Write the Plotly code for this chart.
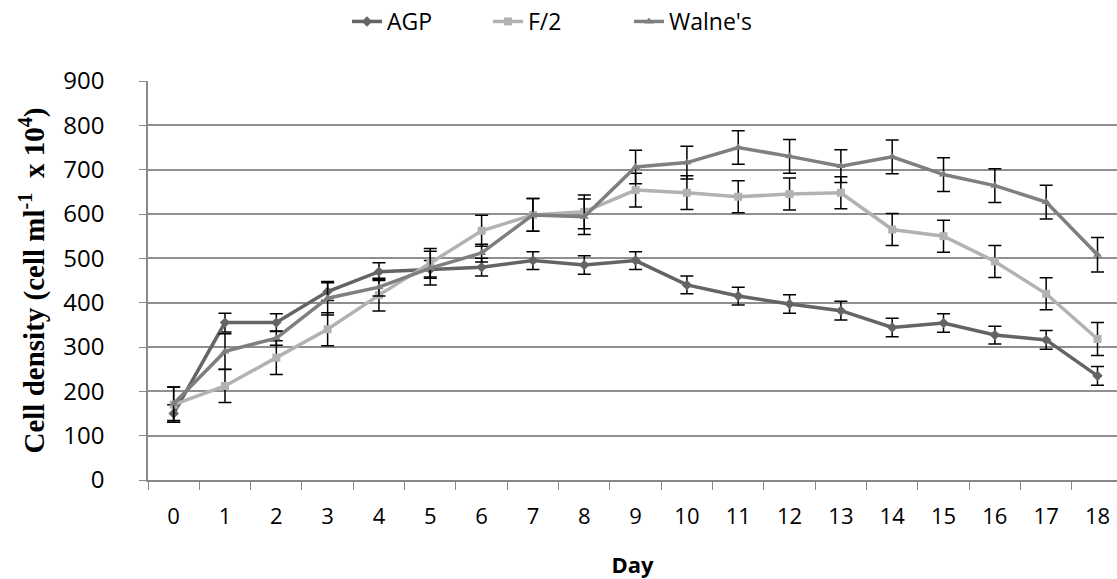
import plotly.graph_objects as go

days = [str(d) for d in range(19)]

agp = [150, 355, 355, 425, 470, 475, 480, 495, 485, 495, 440, 415, 397, 382, 344, 354, 327, 316, 235]
agp_err = [20, 21, 20, 20, 20, 20, 20, 20, 21, 20, 20, 20, 21, 21, 21, 21, 20, 21, 21]

f2 = [170, 212, 276, 340, 417, 490, 562, 598, 605, 654, 648, 639, 645, 648, 565, 550, 493, 420, 318]
f2_err = [40, 37, 38, 37, 36, 32, 35, 37, 38, 38, 38, 36, 36, 36, 36, 36, 36, 36, 37]

walnes = [172, 290, 320, 410, 435, 478, 512, 598, 594, 706, 716, 750, 730, 708, 729, 689, 664, 627, 508]
walnes_err = [38, 40, 16, 38, 20, 38, 20, 37, 40, 38, 37, 38, 38, 37, 38, 38, 38, 38, 39]

series = [
    ("AGP", agp, agp_err, "#646464", "diamond"),
    ("F/2", f2, f2_err, "#b2b2b2", "square"),
    ("Walne's", walnes, walnes_err, "#7f7f7f", "triangle-up"),
]

fig = go.Figure()
for name, vals, errs, color, sym in series:
    fig.add_trace(go.Scatter(
        x=days, y=vals, name=name, mode="lines+markers",
        line=dict(color=color, width=3.5),
        marker=dict(symbol=sym, size=8, color=color),
        error_y=dict(type="data", array=errs, visible=True,
                     color="black", thickness=1.5, width=6.5),
    ))

fig.update_layout(
    width=1117, height=579,
    margin=dict(l=148, r=0, t=81, b=99, autoexpand=False),
    paper_bgcolor="white", plot_bgcolor="white",
    font=dict(family="Open Sans", color="black", size=22),
    legend=dict(orientation="h", x=0.50, xanchor="center", y=1.0, yanchor="top",
                yref="container", xref="container", font=dict(size=23),
                entrywidth=96, traceorder="normal"),
    showlegend=True,
)

fig.update_xaxes(
    type="category", range=[-0.5, 18.38], automargin=False,
    showgrid=False, showline=True, linecolor="#898989", linewidth=1.5,
    ticks="outside", tickson="boundaries", ticklen=8, tickcolor="#898989", tickwidth=1,
    tickfont=dict(size=22, family="Open Sans"), ticklabelstandoff=16,
    title=dict(text="<b>Day</b>", font=dict(size=22, family="Open Sans"), standoff=30),
)
fig.update_yaxes(
    range=[0, 900], dtick=100, tick0=0, automargin=False,
    showgrid=True, gridcolor="#8f8f8f", gridwidth=1.5,
    showline=True, linecolor="#898989", linewidth=1.5,
    ticks="outside", ticklen=7, tickcolor="#898989",
    tickfont=dict(size=24, family="Open Sans"), ticklabelstandoff=30,
    zeroline=False,
    title=dict(text="<b>Cell density (cell ml<sup>-1</sup>  x 10<sup>4</sup>)</b>",
               font=dict(size=29, family="Liberation Serif"), standoff=10),
)

fig.write_html("out.html", post_script="document.body.style.margin='0';",
               config={"displayModeBar": False})
